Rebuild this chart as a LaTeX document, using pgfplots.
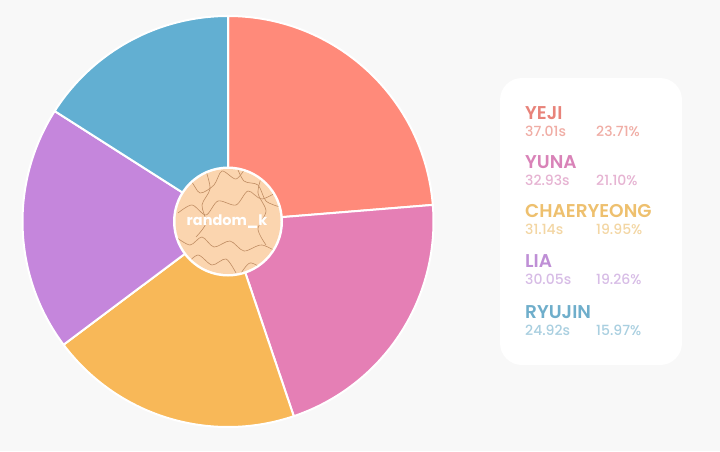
\documentclass[border=0pt]{standalone}
\usepackage{pgfplots}
\usepackage{pgfplotstable}
\pgfplotsset{compat=1.18}
\usepackage{fontspec}
\setmainfont{Poppins}
\newfontfamily\semib{Poppins SemiBold}
\newfontfamily\medium{Poppins Medium}
\definecolor{bg}{HTML}{F8F8F8}
\definecolor{cA}{HTML}{FF8A7A}
\definecolor{cB}{HTML}{E57FB5}
\definecolor{cC}{HTML}{F8B858}
\definecolor{cD}{HTML}{C586DC}
\definecolor{cE}{HTML}{62AFD2}
\definecolor{nA}{HTML}{E8837A}\definecolor{vA}{HTML}{F0ADA5}
\definecolor{nB}{HTML}{D983B8}\definecolor{vB}{HTML}{E6B3D2}
\definecolor{nC}{HTML}{EEC06E}\definecolor{vC}{HTML}{F3D6A3}
\definecolor{nD}{HTML}{BF8FD6}\definecolor{vD}{HTML}{D7BCE6}
\definecolor{nE}{HTML}{6FAECB}\definecolor{vE}{HTML}{A9CFE0}
\definecolor{core}{HTML}{FBD5AF}
\definecolor{vein}{HTML}{C08E64}

\pgfplotstableread{
name time pct
YEJI 37.01 23.71
YUNA 32.93 21.10
CHAERYEONG 31.14 19.95
LIA 30.05 19.26
RYUJIN 24.92 15.97
}\piedata

% cumulative angles (clockwise from 90 degrees)
\pgfplotstablegetelem{0}{pct}\of\piedata\let\pA\pgfplotsretval
\pgfplotstablegetelem{1}{pct}\of\piedata\let\pB\pgfplotsretval
\pgfplotstablegetelem{2}{pct}\of\piedata\let\pC\pgfplotsretval
\pgfplotstablegetelem{3}{pct}\of\piedata\let\pD\pgfplotsretval
\pgfplotstablegetelem{4}{pct}\of\piedata\let\pE\pgfplotsretval
\pgfmathsetmacro\tot{\pA+\pB+\pC+\pD+\pE}
\pgfmathsetmacro\aO{90}
\pgfmathsetmacro\aA{\aO-360*\pA/\tot}
\pgfmathsetmacro\aB{\aA-360*\pB/\tot}
\pgfmathsetmacro\aC{\aB-360*\pC/\tot}
\pgfmathsetmacro\aD{\aC-360*\pD/\tot}
\pgfmathsetmacro\aE{\aD-360*\pE/\tot}

\newcommand\slice[3]{%
  \fill[#3, draw=white, line width=2pt, line join=round]
   (axis cs:228,229.5) -- (axis cs:{228+205.5*cos(#1)},{229.5+205.5*sin(#1)})
   arc[start angle=#1, end angle=#2, radius=205.5pt] -- cycle;}
\newcommand\entry[6]{%
  \node[anchor=base west, inner sep=0pt, text=#5, font=\fontsize{18.5}{20}\semib] at (axis cs:525,#1) {#2};
  \node[anchor=base west, inner sep=0pt, text=#6, font=\fontsize{14}{15}\medium] at (axis cs:525,#1-17) {#3};
  \node[anchor=base west, inner sep=0pt, text=#6, font=\fontsize{14}{15}\medium] at (axis cs:596,#1-17) {#4};}

\begin{document}
\begin{tikzpicture}
\begin{axis}[
  x=1pt, y=1pt, xmin=0, xmax=720, ymin=0, ymax=451,
  hide axis, clip=false, scale only axis,
]
\fill[bg] (axis cs:0,0) rectangle (axis cs:720,451);
% pie slices
\slice{\aO}{\aA}{cA}
\slice{\aA}{\aB}{cB}
\slice{\aB}{\aC}{cC}
\slice{\aC}{\aD}{cD}
\slice{\aD}{\aE}{cE}
% centre badge
\fill[white] (axis cs:228,229.5) circle[radius=55pt];
\fill[core] (axis cs:228,229.5) circle[radius=52.5pt];
\begin{scope}
\clip (axis cs:228,229.5) circle[radius=52.5pt];
\draw[vein, line width=0.6pt] plot[smooth] coordinates {(axis cs:176,262) (axis cs:190,270) (axis cs:200,258) (axis cs:214,266) (axis cs:222,280) (axis cs:236,272) (axis cs:246,284)};
\draw[vein, line width=0.6pt] plot[smooth] coordinates {(axis cs:178,238) (axis cs:192,246) (axis cs:206,236) (axis cs:218,250) (axis cs:236,246) (axis cs:248,260) (axis cs:262,252) (axis cs:282,262)};
\draw[vein, line width=0.6pt] plot[smooth] coordinates {(axis cs:236,286) (axis cs:244,270) (axis cs:258,266) (axis cs:266,250) (axis cs:280,244)};
\draw[vein, line width=0.6pt] plot[smooth] coordinates {(axis cs:176,214) (axis cs:190,206) (axis cs:202,214) (axis cs:214,204) (axis cs:230,210) (axis cs:244,200) (axis cs:262,206) (axis cs:282,196)};
\draw[vein, line width=0.6pt] plot[smooth] coordinates {(axis cs:186,186) (axis cs:198,196) (axis cs:212,186) (axis cs:226,192) (axis cs:236,178)};
\draw[vein, line width=0.6pt] plot[smooth] coordinates {(axis cs:240,176) (axis cs:250,188) (axis cs:266,182) (axis cs:276,192)};
\draw[vein, line width=0.6pt] plot[smooth] coordinates {(axis cs:206,280) (axis cs:210,262) (axis cs:202,246) (axis cs:206,228) (axis cs:196,214)};
\draw[vein, line width=0.6pt] plot[smooth] coordinates {(axis cs:262,276) (axis cs:258,258) (axis cs:266,240) (axis cs:258,222) (axis cs:266,206)};
\end{scope}
\node[text=white, font=\fontsize{14.5}{16}\selectfont\bfseries, inner sep=0pt] at (axis cs:227,229) {random\_k};
% legend box
\fill[white] (axis cs:500,86) [rounded corners=22pt] rectangle (axis cs:682,373);
\entry{332}{YEJI}{37.01s}{23.71\%}{nA}{vA}
\entry{282.3}{YUNA}{32.93s}{21.10\%}{nB}{vB}
\entry{233.5}{CHAERYEONG}{31.14s}{19.95\%}{nC}{vC}
\entry{183.5}{LIA}{30.05s}{19.26\%}{nD}{vD}
\entry{133}{RYUJIN}{24.92s}{15.97\%}{nE}{vE}
\end{axis}
\end{tikzpicture}
\end{document}
